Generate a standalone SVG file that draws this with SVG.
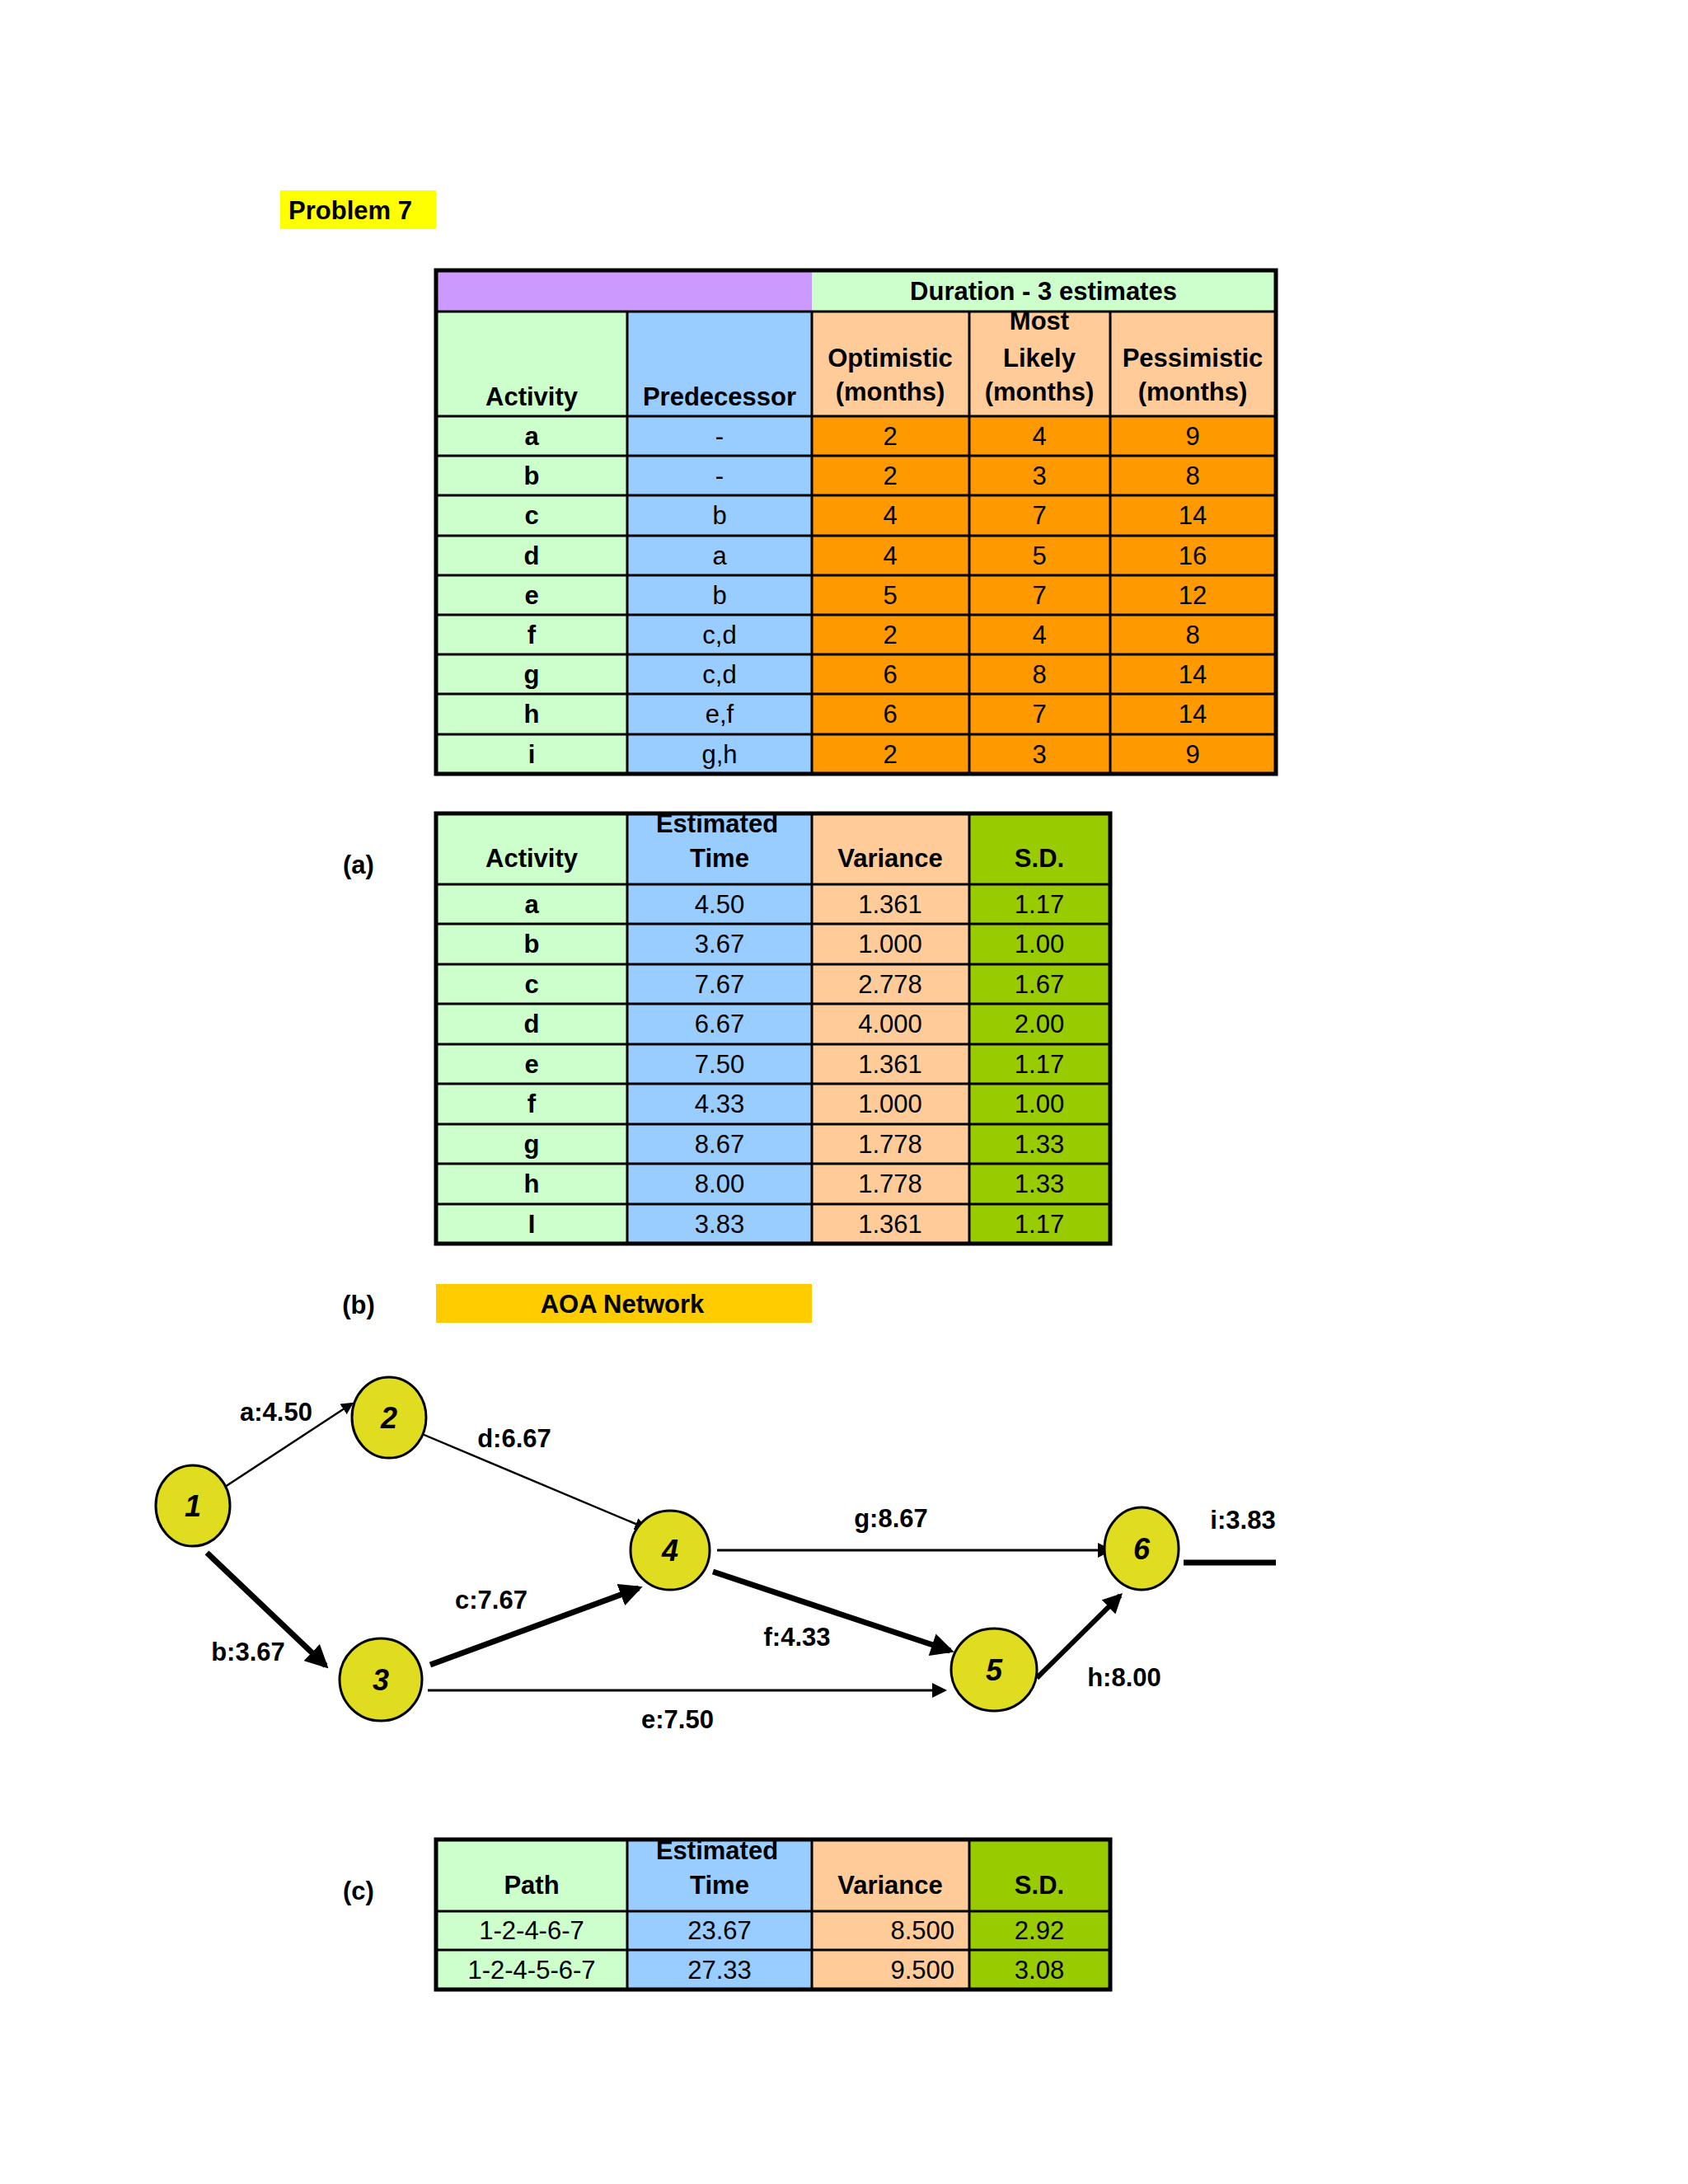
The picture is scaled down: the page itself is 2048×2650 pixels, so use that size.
<svg xmlns="http://www.w3.org/2000/svg" width="2048" height="2650" viewBox="0 0 2048 2650">
<style>
text{font-family:"Liberation Sans",Arial,sans-serif;font-size:31px;text-anchor:middle}
.b{font-weight:bold}
.l{stroke:#000;stroke-width:3;fill:none}
.g{fill:#CCFFCC}.bl{fill:#99CCFF}.p{fill:#FFCC99}.o{fill:#FF9900}.sd{fill:#99CC00}
.n ellipse{fill:#E0DC20;stroke:#000;stroke-width:3}
.n text{font-weight:bold;font-style:italic;font-size:36px}
.e{stroke:#000;fill:none}
</style>
<defs>
<marker id="ar" markerWidth="6" markerHeight="6" refX="5" refY="3" orient="auto" markerUnits="strokeWidth"><path d="M0,0L6,3L0,6z" fill="#000"/></marker>
<marker id="ar2" markerWidth="4" markerHeight="4" refX="3.3" refY="2" orient="auto" markerUnits="strokeWidth"><path d="M0,0L4,2L0,4z" fill="#000"/></marker>
</defs>
<rect width="2048" height="2650" fill="#fff"/>
<rect x="340" y="231" width="189" height="47" fill="#FFFF00"/>
<text class="b" x="425" y="266">Problem 7</text>

<g id="table1">
<rect x="529" y="328" width="456" height="50" fill="#CC99FF"/>
<rect x="985" y="328" width="563" height="50" class="g"/>
<rect x="529" y="378" width="232" height="561" class="g"/>
<rect x="761" y="378" width="224" height="561" class="bl"/>
<rect x="985" y="378" width="563" height="127" class="p"/>
<rect x="985" y="505" width="563" height="434" class="o"/>
<path class="l" d="M529,378H1548M529,505H1548M529,553H1548M529,601H1548M529,650H1548M529,698H1548M529,746H1548M529,794H1548M529,842H1548M529,891H1548M761,378V939M985,378V939M1176,378V939M1347,378V939"/>
<rect x="529" y="328" width="1019" height="611" fill="none" stroke="#000" stroke-width="5"/>
<text class="b" x="1266" y="364">Duration - 3 estimates</text>
<text class="b" x="645" y="492">Activity</text>
<text class="b" x="873" y="492">Predecessor</text>
<text class="b" x="1080" y="445">Optimistic</text><text class="b" x="1080" y="486">(months)</text>
<text class="b" x="1261" y="400">Most</text><text class="b" x="1261" y="445">Likely</text><text class="b" x="1261" y="486">(months)</text>
<text class="b" x="1447" y="445">Pessimistic</text><text class="b" x="1447" y="486">(months)</text>
<g class="b"><text x="645" y="540">a</text><text x="645" y="588">b</text><text x="645" y="636">c</text><text x="645" y="685">d</text><text x="645" y="733">e</text><text x="645" y="781">f</text><text x="645" y="829">g</text><text x="645" y="877">h</text><text x="645" y="926">i</text></g>
<text x="873" y="540">-</text><text x="873" y="588">-</text><text x="873" y="636">b</text><text x="873" y="685">a</text><text x="873" y="733">b</text><text x="873" y="781">c,d</text><text x="873" y="829">c,d</text><text x="873" y="877">e,f</text><text x="873" y="926">g,h</text>
<text x="1080" y="540">2</text><text x="1080" y="588">2</text><text x="1080" y="636">4</text><text x="1080" y="685">4</text><text x="1080" y="733">5</text><text x="1080" y="781">2</text><text x="1080" y="829">6</text><text x="1080" y="877">6</text><text x="1080" y="926">2</text>
<text x="1261" y="540">4</text><text x="1261" y="588">3</text><text x="1261" y="636">7</text><text x="1261" y="685">5</text><text x="1261" y="733">7</text><text x="1261" y="781">4</text><text x="1261" y="829">8</text><text x="1261" y="877">7</text><text x="1261" y="926">3</text>
<text x="1447" y="540">9</text><text x="1447" y="588">8</text><text x="1447" y="636">14</text><text x="1447" y="685">16</text><text x="1447" y="733">12</text><text x="1447" y="781">8</text><text x="1447" y="829">14</text><text x="1447" y="877">14</text><text x="1447" y="926">9</text>
</g>

<text class="b" x="435" y="1060">(a)</text>
<g id="table2">
<rect x="529" y="987" width="232" height="522" class="g"/>
<rect x="761" y="987" width="224" height="522" class="bl"/>
<rect x="985" y="987" width="191" height="522" class="p"/>
<rect x="1176" y="987" width="171" height="522" class="sd"/>
<path class="l" d="M529,1073H1347M529,1121H1347M529,1170H1347M529,1218H1347M529,1267H1347M529,1315H1347M529,1364H1347M529,1412H1347M529,1461H1347M761,987V1509M985,987V1509M1176,987V1509"/>
<rect x="529" y="987" width="818" height="522" fill="none" stroke="#000" stroke-width="5"/>
<text class="b" x="870" y="1010">Estimated</text><text class="b" x="873" y="1052">Time</text>
<text class="b" x="645" y="1052">Activity</text><text class="b" x="1080" y="1052">Variance</text><text class="b" x="1261" y="1052">S.D.</text>
<g class="b"><text x="645" y="1108">a</text><text x="645" y="1156">b</text><text x="645" y="1205">c</text><text x="645" y="1253">d</text><text x="645" y="1302">e</text><text x="645" y="1350">f</text><text x="645" y="1399">g</text><text x="645" y="1447">h</text><text x="645" y="1496">I</text></g>
<text x="873" y="1108">4.50</text><text x="873" y="1156">3.67</text><text x="873" y="1205">7.67</text><text x="873" y="1253">6.67</text><text x="873" y="1302">7.50</text><text x="873" y="1350">4.33</text><text x="873" y="1399">8.67</text><text x="873" y="1447">8.00</text><text x="873" y="1496">3.83</text>
<text x="1080" y="1108">1.361</text><text x="1080" y="1156">1.000</text><text x="1080" y="1205">2.778</text><text x="1080" y="1253">4.000</text><text x="1080" y="1302">1.361</text><text x="1080" y="1350">1.000</text><text x="1080" y="1399">1.778</text><text x="1080" y="1447">1.778</text><text x="1080" y="1496">1.361</text>
<text x="1261" y="1108">1.17</text><text x="1261" y="1156">1.00</text><text x="1261" y="1205">1.67</text><text x="1261" y="1253">2.00</text><text x="1261" y="1302">1.17</text><text x="1261" y="1350">1.00</text><text x="1261" y="1399">1.33</text><text x="1261" y="1447">1.33</text><text x="1261" y="1496">1.17</text>
</g>

<text class="b" x="435" y="1594">(b)</text>
<rect x="529" y="1558" width="456" height="47" fill="#FFCC00"/>
<text class="b" x="755" y="1593">AOA Network</text>

<g id="connectors">
<line class="e" stroke-width="2.5" x1="273" y1="1804" x2="427" y2="1703" marker-end="url(#ar)"/>
<line class="e" stroke-width="2.5" x1="505" y1="1737" x2="783" y2="1854" marker-end="url(#ar)"/>
<line class="e" stroke-width="7" x1="251" y1="1884" x2="395" y2="2021" marker-end="url(#ar2)"/>
<line class="e" stroke-width="7" x1="522" y1="2020" x2="775" y2="1927" marker-end="url(#ar2)"/>
<line class="e" stroke-width="3" x1="519" y1="2051" x2="1146" y2="2051" marker-end="url(#ar)"/>
<line class="e" stroke-width="3" x1="870" y1="1881" x2="1347" y2="1881" marker-end="url(#ar)"/>
<line class="e" stroke-width="7" x1="865" y1="1907" x2="1153" y2="2003" marker-end="url(#ar2)"/>
<line class="e" stroke-width="6" x1="1258" y1="2036" x2="1359" y2="1936" marker-end="url(#ar2)"/>
<line class="e" stroke-width="7" x1="1436" y1="1896" x2="1548" y2="1896"/>
<g class="b">
<text x="335" y="1724">a:4.50</text><text x="624" y="1756">d:6.67</text><text x="301" y="2015">b:3.67</text><text x="596" y="1952">c:7.67</text><text x="822" y="2097">e:7.50</text><text x="967" y="1997">f:4.33</text><text x="1081" y="1853">g:8.67</text><text x="1364" y="2046">h:8.00</text><text x="1508" y="1855">i:3.83</text>
</g>
</g>
<g id="n1" class="n"><ellipse cx="234" cy="1827" rx="45" ry="49"/><text x="234" y="1840">1</text></g>
<g id="n2" class="n"><ellipse cx="472" cy="1720" rx="45" ry="49"/><text x="472" y="1733">2</text></g>
<g id="n3" class="n"><ellipse cx="462" cy="2038" rx="50" ry="50"/><text x="462" y="2051">3</text></g>
<g id="n4" class="n"><ellipse cx="813" cy="1881" rx="48" ry="48"/><text x="813" y="1894">4</text></g>
<g id="n5" class="n"><ellipse cx="1206" cy="2026" rx="52" ry="50"/><text x="1206" y="2039">5</text></g>
<g id="n6" class="n"><ellipse cx="1385" cy="1879" rx="45" ry="50"/><text x="1385" y="1892">6</text></g>

<text class="b" x="435" y="2305">(c)</text>
<g id="table3">
<rect x="529" y="2232" width="232" height="182" class="g"/>
<rect x="761" y="2232" width="224" height="182" class="bl"/>
<rect x="985" y="2232" width="191" height="182" class="p"/>
<rect x="1176" y="2232" width="171" height="182" class="sd"/>
<path class="l" d="M529,2319H1347M529,2366H1347M761,2232V2414M985,2232V2414M1176,2232V2414"/>
<rect x="529" y="2232" width="818" height="182" fill="none" stroke="#000" stroke-width="5"/>
<text class="b" x="870" y="2256">Estimated</text><text class="b" x="873" y="2298">Time</text>
<text class="b" x="645" y="2298">Path</text><text class="b" x="1080" y="2298">Variance</text><text class="b" x="1261" y="2298">S.D.</text>
<text x="645" y="2353">1-2-4-6-7</text><text x="645" y="2401">1-2-4-5-6-7</text>
<text x="873" y="2353">23.67</text><text x="873" y="2401">27.33</text>
<text x="1158" y="2353" text-anchor="end" style="text-anchor:end">8.500</text><text x="1158" y="2401" style="text-anchor:end">9.500</text>
<text x="1261" y="2353">2.92</text><text x="1261" y="2401">3.08</text>
</g>
</svg>
